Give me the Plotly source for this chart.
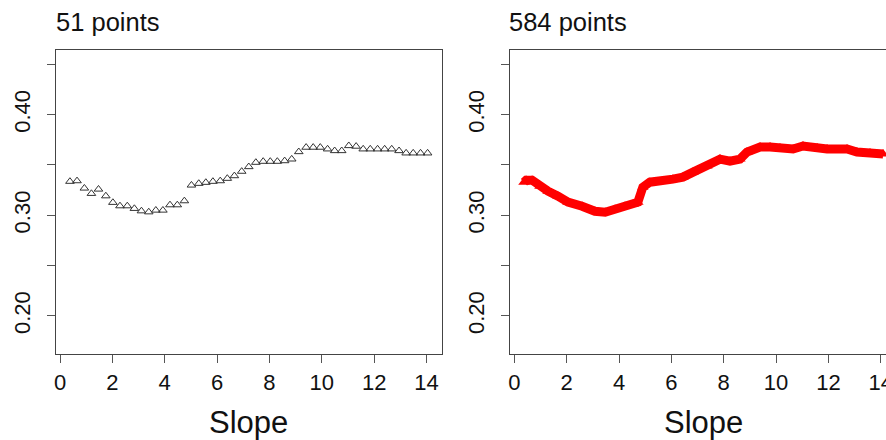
import plotly.graph_objects as go

# ---- data ----
slope_51 = [0.38, 0.65, 0.93, 1.20, 1.47, 1.75, 2.02, 2.29, 2.57, 2.84,
            3.11, 3.39, 3.66, 3.93, 4.20, 4.48, 4.75, 5.02, 5.30, 5.57,
            5.84, 6.12, 6.39, 6.66, 6.94, 7.21, 7.48, 7.76, 8.03, 8.30,
            8.58, 8.85, 9.12, 9.40, 9.67, 9.94, 10.22, 10.49, 10.76, 11.03,
            11.31, 11.58, 11.85, 12.13, 12.40, 12.67, 12.95, 13.22, 13.49, 13.77,
            14.04]
value_51 = [0.3336, 0.3342, 0.3269, 0.3216, 0.3259, 0.3192, 0.3127, 0.3093, 0.3093, 0.3067,
            0.3043, 0.3033, 0.3050, 0.3050, 0.3103, 0.3103, 0.3143, 0.3299, 0.3316, 0.3326,
            0.3336, 0.3342, 0.3366, 0.3392, 0.3436, 0.3482, 0.3525, 0.3535, 0.3535, 0.3535,
            0.3541, 0.3558, 0.3631, 0.3675, 0.3675, 0.3675, 0.3658, 0.3641, 0.3641, 0.3691,
            0.3685, 0.3658, 0.3658, 0.3658, 0.3658, 0.3658, 0.3641, 0.3618, 0.3618, 0.3618,
            0.3618]

slope_584 = [0.37, 0.45, 0.68, 0.98, 1.29, 1.67, 2.05, 2.59, 3.08, 3.47,
             3.85, 4.23, 4.54, 4.72, 4.91, 5.18, 6.06, 6.44, 6.83, 7.36,
             7.86, 8.24, 8.62, 8.89, 9.39, 9.77, 10.15, 10.65, 11.03, 11.57,
             11.95, 12.71, 13.09, 13.59, 14.09]
value_584 = [0.3329, 0.3349, 0.3349, 0.3289, 0.3239, 0.3189, 0.3130, 0.3090, 0.3040, 0.3030,
             0.3060, 0.3090, 0.3110, 0.3130, 0.3279, 0.3329, 0.3359, 0.3379, 0.3429, 0.3489,
             0.3558, 0.3538, 0.3558, 0.3628, 0.3678, 0.3678, 0.3668, 0.3658, 0.3688, 0.3668,
             0.3658, 0.3658, 0.3628, 0.3618, 0.3608]

titles = ["51 points", "584 points"]
x_title = "Slope"
x_ticks = [0, 2, 4, 6, 8, 10, 12, 14]
y_ticks = [0.20, 0.25, 0.30, 0.35, 0.40, 0.45]
y_ticktext = ["0.20", "", "0.30", "", "0.40", ""]

# ---- layout geometry ----
W, H = 886, 440
FONT = "Liberation Sans, Arial, sans-serif"

fig = go.Figure()
fig.add_trace(go.Scatter(
    x=slope_51, y=value_51, mode="markers", xaxis="x", yaxis="y",
    marker=dict(symbol="triangle-up-open", size=7.5, color="#333333",
                line=dict(width=1, color="#333333")),
    showlegend=False, hoverinfo="skip"))
fig.add_trace(go.Scatter(
    x=slope_584, y=value_584, mode="lines+markers", xaxis="x2", yaxis="y2",
    line=dict(color="#ff0000", width=9, shape="linear"),
    marker=dict(symbol="triangle-up", size=10, color="#ff0000"),
    showlegend=False, hoverinfo="skip"))

def px_x(p):
    return p / W

def px_y(p):
    return 1 - p / H

common_x = dict(tickmode="array", tickvals=x_ticks, ticks="outside", ticklen=8,
                tickcolor="#555555", tickwidth=1, showgrid=False, zeroline=False,
                showline=True, linecolor="#444444", linewidth=1, automargin=False,
                tickfont=dict(family=FONT, size=22, color="#111111"),
                ticklabelstandoff=1, ticklabeloverflow="allow")
common_y = dict(tickmode="array", tickvals=y_ticks, ticktext=y_ticktext, ticks="outside",
                ticklen=8, tickcolor="#555555", tickwidth=1, showgrid=False,
                zeroline=False, showline=True, linecolor="#444444", linewidth=1,
                tickangle=-90, range=[0.1622, 0.4642], automargin=False,
                tickfont=dict(family=FONT, size=22, color="#111111"),
                ticklabelstandoff=8)

fig.update_layout(
    width=W, height=H, margin=dict(l=0, r=0, t=0, b=0, autoexpand=False),
    paper_bgcolor="white", plot_bgcolor="white",
    xaxis=dict(domain=[px_x(56), px_x(442)], range=[-0.153, 14.59], mirror=True,
               anchor="y", **common_x),
    yaxis=dict(domain=[px_y(354), px_y(50)], mirror=True, anchor="x", **common_y),
    xaxis2=dict(domain=[px_x(510), 1.0], range=[-0.164, 14.20], mirror=True,
                anchor="y2", **common_x),
    yaxis2=dict(domain=[px_y(354), px_y(50)], mirror=False, anchor="x2", **common_y),
    annotations=[
        dict(text=titles[0], x=px_x(54), y=px_y(22), xref="paper", yref="paper",
             xanchor="left", yanchor="middle", showarrow=False,
             font=dict(family=FONT, size=25.5, color="#111111")),
        dict(text=titles[1], x=px_x(507), y=px_y(22), xref="paper", yref="paper",
             xanchor="left", yanchor="middle", showarrow=False,
             font=dict(family=FONT, size=25.5, color="#111111")),
        dict(text=x_title, x=px_x(249), y=px_y(422), xref="paper", yref="paper",
             xanchor="center", yanchor="middle", showarrow=False,
             font=dict(family=FONT, size=31, color="#111111")),
        dict(text=x_title, x=px_x(703), y=px_y(422), xref="paper", yref="paper",
             xanchor="center", yanchor="middle", showarrow=False,
             font=dict(family=FONT, size=31, color="#111111")),
    ],
)

fig.write_html("out.html", config={"displayModeBar": False},
               post_script="document.body.style.margin='0';document.body.style.padding='0';")
